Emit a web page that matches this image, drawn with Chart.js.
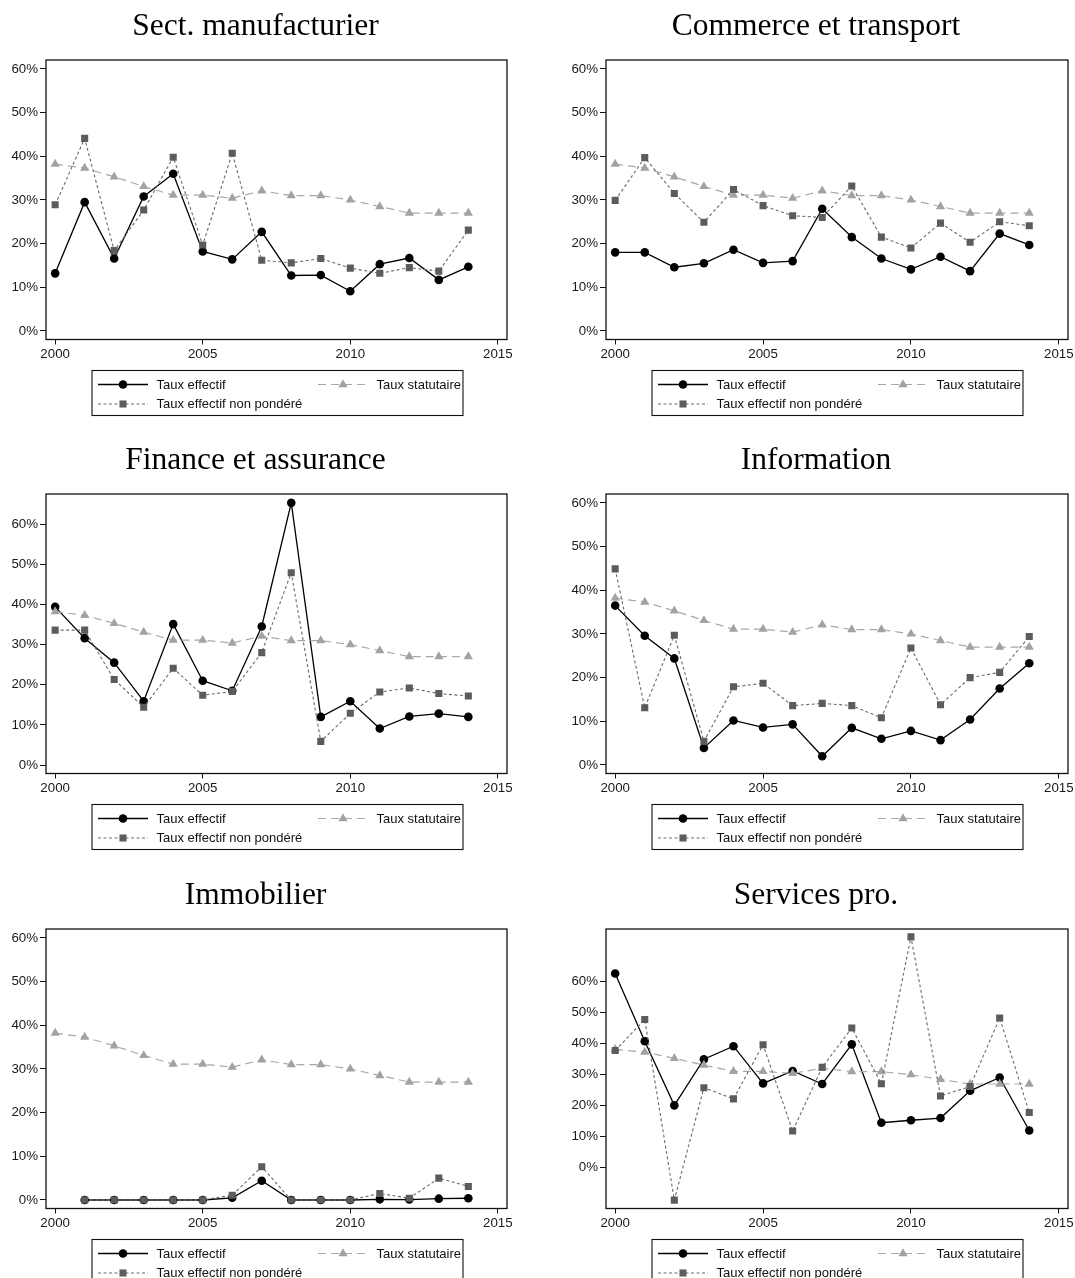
<!DOCTYPE html>
<html>
<head>
<meta charset="utf-8">
<script src="https://cdn.jsdelivr.net/npm/chart.js@4.4.1/dist/chart.umd.min.js"></script>
<style>
  html, body { margin: 0; padding: 0; background: #fff; }
  body { width: 1075px; height: 1278px; position: relative; overflow: hidden; }
  canvas { position: absolute; }
</style>
</head>
<body>
<canvas id="manuf"   width="537" height="434" style="left:0;top:0"></canvas>
<canvas id="commerce" width="538" height="434" style="left:537px;top:0"></canvas>
<canvas id="finance" width="537" height="434" style="left:0;top:434px"></canvas>
<canvas id="info"    width="538" height="434" style="left:537px;top:434px"></canvas>
<canvas id="immo"    width="537" height="409" style="left:0;top:869px"></canvas>
<canvas id="servpro" width="538" height="409" style="left:537px;top:869px"></canvas>
<script>
// Years and axis ticks
const years  = [2000, 2001, 2002, 2003, 2004, 2005, 2006, 2007, 2008, 2009, 2010, 2011, 2012, 2013, 2014];
const xTicks = [2000, 2005, 2010, 2015];
const yTicks = [0, 10, 20, 30, 40, 50, 60];

const legendLabels = ['Taux effectif', 'Taux statutaire', 'Taux effectif non pondéré'];

// Statutory rate (same in every sector), in %
const tauxStatutaire = [38.2, 37.3, 35.3, 33.1, 31.1, 31.1, 30.4, 32.1, 31.0, 31.0, 30.0, 28.5, 27.0, 27.0, 27.0];

// Sect. manufacturier
const manufEffectif   = [13.2, 29.5, 16.6, 30.8, 36.0, 18.2, 16.4, 22.7, 12.7, 12.8, 9.1, 15.3, 16.7, 11.7, 14.7];
const manufNonPondere = [28.9, 44.1, 18.4, 27.7, 39.8, 19.7, 40.7, 16.2, 15.6, 16.6, 14.4, 13.2, 14.5, 13.7, 23.1];

// Commerce et transport
const commerceEffectif   = [18.0, 18.0, 14.6, 15.5, 18.6, 15.6, 16.0, 28.0, 21.5, 16.6, 14.1, 17.0, 13.7, 22.3, 19.7];
const commerceNonPondere = [29.9, 39.7, 31.5, 24.9, 32.4, 28.7, 26.4, 26.0, 33.2, 21.5, 19.0, 24.7, 20.3, 25.0, 24.1];

// Finance et assurance
const financeEffectif   = [39.4, 31.6, 25.5, 15.9, 35.1, 21.0, 18.5, 34.5, 65.3, 12.0, 15.9, 9.1, 12.1, 12.8, 12.0];
const financeNonPondere = [33.6, 33.6, 21.3, 14.4, 24.1, 17.4, 18.3, 28.0, 47.9, 5.9, 12.9, 18.2, 19.2, 17.8, 17.2];

// Information
const infoEffectif   = [36.5, 29.6, 24.4, 3.9, 10.2, 8.6, 9.3, 2.0, 8.5, 6.0, 7.8, 5.7, 10.4, 17.5, 23.3];
const infoNonPondere = [44.9, 13.1, 29.7, 5.4, 17.9, 18.7, 13.6, 14.1, 13.6, 10.8, 26.8, 13.8, 20.0, 21.2, 29.4];

// Immobilier (no 2000 observation)
const immoEffectif   = [null, 0.0, 0.0, 0.0, 0.0, 0.0, 0.5, 4.4, 0.0, 0.0, 0.0, 0.15, 0.1, 0.3, 0.4];
const immoNonPondere = [null, 0.0, 0.0, 0.0, 0.0, 0.0, 1.1, 7.6, 0.0, 0.0, 0.0, 1.5, 0.4, 5.0, 3.1];

// Services pro.
const servEffectif   = [62.7, 40.8, 20.1, 35.0, 39.2, 27.2, 31.2, 27.0, 39.8, 14.5, 15.3, 16.0, 24.8, 29.1, 12.0];
const servNonPondere = [37.8, 47.8, -10.5, 25.8, 22.2, 39.7, 11.8, 32.4, 45.1, 27.1, 74.5, 23.1, 26.2, 48.3, 17.8];

const panels = [
  { id: 'manuf',    title: 'Sect. manufacturier',   eff: manufEffectif,    np: manufNonPondere,    yMin: -1.95, yMax: 62.05, col: 0 },
  { id: 'commerce', title: 'Commerce et transport', eff: commerceEffectif, np: commerceNonPondere, yMin: -1.95, yMax: 62.05, col: 1 },
  { id: 'finance',  title: 'Finance et assurance',  eff: financeEffectif,  np: financeNonPondere,  yMin: -2.1,  yMax: 67.5,  col: 0 },
  { id: 'info',     title: 'Information',           eff: infoEffectif,     np: infoNonPondere,     yMin: -1.95, yMax: 62.05, col: 1 },
  { id: 'immo',     title: 'Immobilier',            eff: immoEffectif,     np: immoNonPondere,     yMin: -1.95, yMax: 62.05, col: 0 },
  { id: 'servpro',  title: 'Services pro.',         eff: servEffectif,     np: servNonPondere,     yMin: -13.2, yMax: 77.05, col: 1 }
];

const SANS  = "'Liberation Sans', Arial, Helvetica, sans-serif";
const SERIF = "'Liberation Serif', 'Times New Roman', serif";
Chart.defaults.font.family = SANS;
Chart.defaults.font.size = 13;

const PLOT_H = 279.5;
const AXIS_X_H = 30;
const AXIS_Y_W = 46;

function marker(ctx, style, r, x, y) {
  ctx.beginPath();
  if (style === 'circle') {
    ctx.arc(x, y, r, 0, Math.PI * 2);
  } else if (style === 'rect') {
    const s = r * Math.SQRT1_2;
    ctx.rect(x - s, y - s, 2 * s, 2 * s);
  } else if (style === 'triangle') {
    for (let k = 0; k < 3; k++) {
      const a = k * 2 * Math.PI / 3;
      const px = x + Math.sin(a) * r, py = y - Math.cos(a) * r;
      if (k === 0) ctx.moveTo(px, py); else ctx.lineTo(px, py);
    }
    ctx.closePath();
  }
  ctx.fill();
}

// Frame, panel title and the boxed two-column key
const decorations = {
  id: 'decorations',
  beforeDatasetsDraw(chart, args, opts) {
    const a = chart.chartArea, ctx = chart.ctx;
    ctx.save();
    ctx.strokeStyle = '#111';
    ctx.lineWidth = 1.3;
    ctx.strokeRect(a.left, a.top, a.right - a.left, a.bottom - a.top);
    ctx.restore();
  },
  afterDraw(chart, args, opts) {
    const a = chart.chartArea, ctx = chart.ctx;
    ctx.save();
    // title
    ctx.fillStyle = '#000';
    ctx.font = '31.5px ' + SERIF;
    ctx.textAlign = 'center';
    ctx.textBaseline = 'alphabetic';
    ctx.fillText(opts.title, (a.left + a.right) / 2 - 21, a.top - 25);

    // key
    const L = a.left + 46, T = a.bottom + 31, W = 371, H = 45;
    ctx.strokeStyle = '#111';
    ctx.lineWidth = 1.1;
    ctx.strokeRect(L, T, W, H);
    const ds = chart.data.datasets;
    const byLabel = lbl => ds.find(d => d.label === lbl);
    const slots = [
      { lbl: legendLabels[0], x: L + 6,   y: T + 14 },
      { lbl: legendLabels[1], x: L + 226, y: T + 14 },
      { lbl: legendLabels[2], x: L + 6,   y: T + 33.5 }
    ];
    ctx.font = '13px ' + SANS;
    ctx.textAlign = 'left';
    ctx.textBaseline = 'middle';
    slots.forEach(s => {
      const d = byLabel(s.lbl);
      ctx.save();
      ctx.strokeStyle = d.borderColor;
      ctx.lineWidth = d.borderWidth;
      ctx.setLineDash(d.borderDash || []);
      ctx.beginPath();
      ctx.moveTo(s.x, s.y);
      ctx.lineTo(s.x + 50, s.y);
      ctx.stroke();
      ctx.setLineDash([]);
      ctx.fillStyle = d.pointBackgroundColor;
      marker(ctx, d.pointStyle, d.pointRadius, s.x + 25, s.y);
      ctx.restore();
      ctx.fillStyle = '#111';
      ctx.fillText(s.lbl, s.x + 58.5, s.y + 0.5);
    });
    ctx.restore();
  }
};

function pts(arr) {
  return years.map((yr, i) => ({ x: yr, y: arr[i] }));
}

panels.forEach(p => {
  const cv = document.getElementById(p.id);
  const H = cv.height;
  const padLeft  = p.col === 0 ? 0 : 23;
  const padRight = p.col === 0 ? 30 : 7;
  new Chart(cv, {
    type: 'line',
    data: {
      datasets: [
        { label: legendLabels[2], data: pts(p.np),
          borderColor: '#6a6a6a', borderWidth: 1.1, borderDash: [3, 2.5],
          pointStyle: 'rect', pointRadius: 5.0, pointBackgroundColor: '#5c5c5c', pointBorderWidth: 0,
          tension: 0, spanGaps: false },
        { label: legendLabels[1], data: pts(tauxStatutaire),
          borderColor: '#a8a8a8', borderWidth: 1.2, borderDash: [8, 5],
          pointStyle: 'triangle', pointRadius: 5.3, pointBackgroundColor: '#a2a2a2', pointBorderWidth: 0,
          tension: 0 },
        { label: legendLabels[0], data: pts(p.eff),
          borderColor: '#000', borderWidth: 1.3,
          pointStyle: 'circle', pointRadius: 4.3, pointBackgroundColor: '#000', pointBorderWidth: 0,
          tension: 0, spanGaps: false }
      ]
    },
    options: {
      responsive: false,
      animation: false,
      devicePixelRatio: 1,
      events: [],
      layout: { padding: { top: 60, bottom: H - 60 - PLOT_H - AXIS_X_H, left: padLeft, right: padRight } },
      plugins: {
        legend: { display: false },
        tooltip: { enabled: false },
        title: { display: false },
        decorations: { title: p.title }
      },
      scales: {
        x: {
          type: 'linear', min: 1999.69, max: 2015.31,
          afterBuildTicks: s => { s.ticks = xTicks.map(v => ({ value: v })); },
          afterFit: s => { s.height = AXIS_X_H; s.paddingLeft = 0; s.paddingRight = 0; },
          border: { display: false },
          grid: { display: true, drawOnChartArea: false, drawTicks: true, tickLength: 5, color: '#111', lineWidth: 1 },
          ticks: { padding: 1.5, color: '#1a1a1a', font: { size: 13.3 }, maxRotation: 0, autoSkip: false, callback: v => String(v) }
        },
        y: {
          type: 'linear', min: p.yMin, max: p.yMax,
          afterBuildTicks: s => { s.ticks = yTicks.map(v => ({ value: v })); },
          afterFit: s => { s.width = AXIS_Y_W; s.paddingTop = 0; s.paddingBottom = 0; },
          border: { display: false },
          grid: { display: true, drawOnChartArea: false, drawTicks: true, tickLength: 6, color: '#111', lineWidth: 1 },
          ticks: { padding: 2, color: '#1a1a1a', font: { size: 13.3 }, autoSkip: false, callback: v => v + '%' }
        }
      }
    },
    plugins: [decorations]
  });
});
</script>
</body>
</html>
